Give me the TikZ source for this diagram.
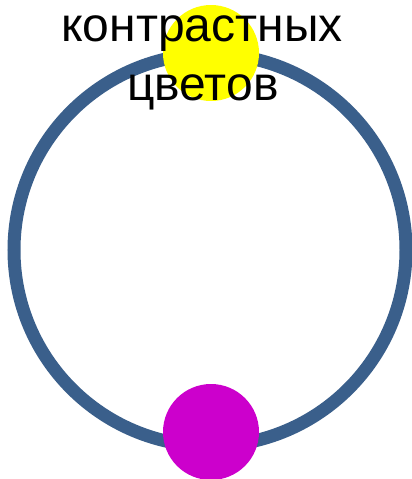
\documentclass[tikz,border=0pt]{standalone}
\usepackage{fontspec}
\setmainfont{Liberation Sans}
\definecolor{ringblue}{HTML}{3A5F8B}
\definecolor{sunyellow}{HTML}{FFFF00}
\definecolor{dotmagenta}{HTML}{CC00CC}
\begin{document}
\begin{tikzpicture}[x=1pt,y=-1pt,
  ring/.style={draw=ringblue,line width=13pt},
  dot/.style={circle,inner sep=0pt,minimum size=96pt},
  label/.style={anchor=base,inner sep=0pt,font=\fontsize{48}{58}\selectfont}]
\useasboundingbox (0,0) rectangle (412,479);
\begin{scope}
\clip (0,0) rectangle (412,479);
\node[circle,ring,minimum size=392pt,inner sep=0pt] (ring) at (210,250) {};
\node[dot,fill=sunyellow] (top) at (211,53) {};
\node[dot,fill=dotmagenta] (bottom) at (211,432) {};
\end{scope}
\node[label] (l1) at (202,41) {контрастных};
\node[label] (l2) at (203,100) {цветов};
\end{tikzpicture}
\end{document}
